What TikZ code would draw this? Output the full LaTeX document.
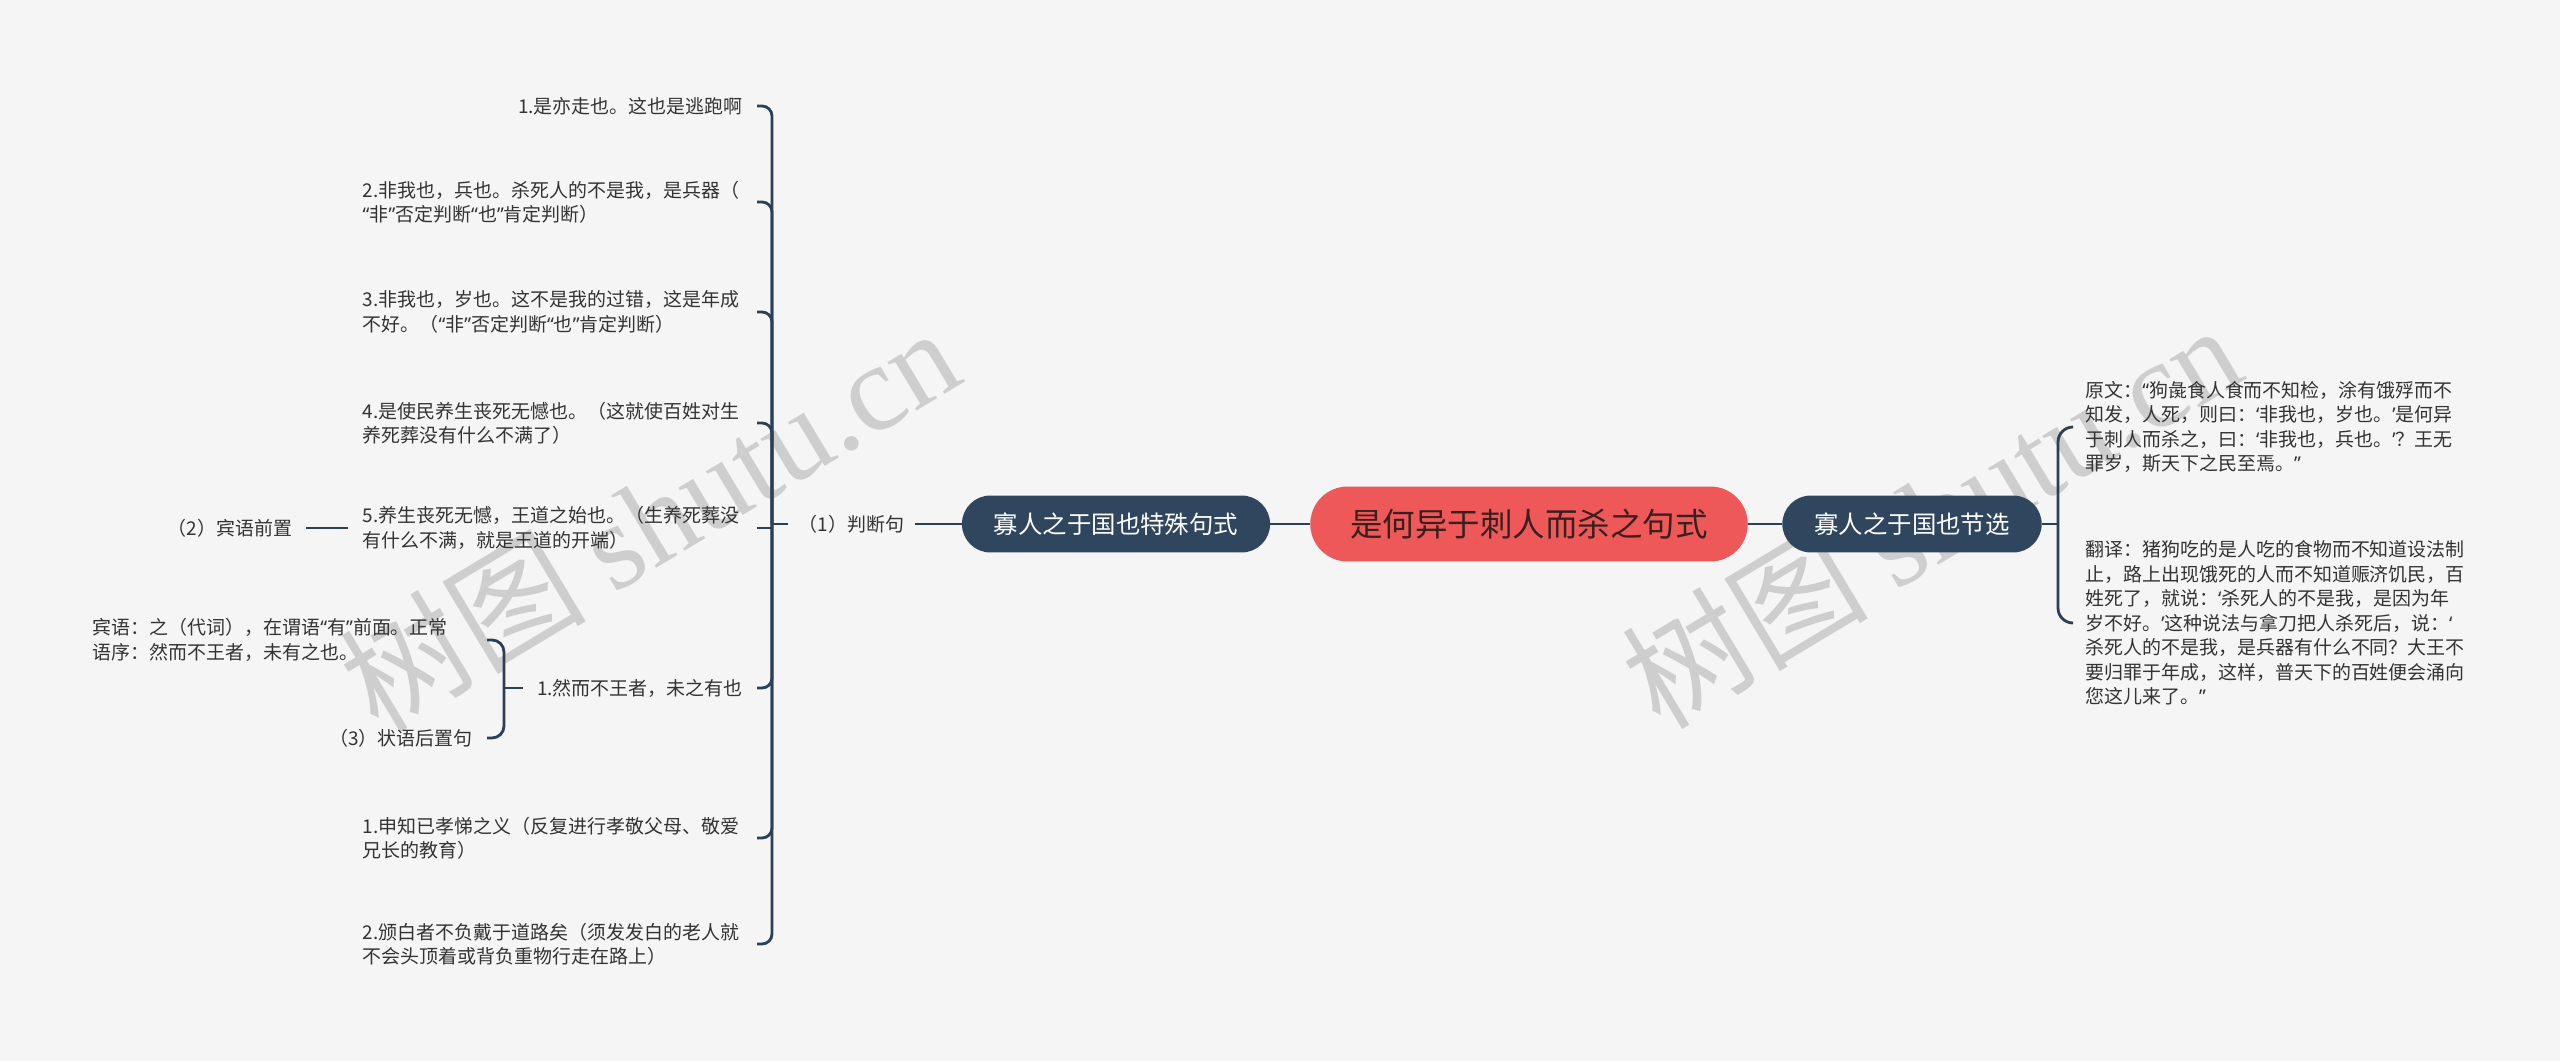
\documentclass[tikz,border=0pt]{standalone}
\usepackage{fontspec}
\setmainfont{Noto Sans CJK SC}
\newfontfamily\markfont{Liberation Serif}
\newfontfamily\quotefont{Noto Sans}
\usetikzlibrary{positioning,calc}
\definecolor{mmPaper}{HTML}{F5F5F5}
\definecolor{mmNavy} {HTML}{30465E}
\definecolor{mmLine} {HTML}{2B3F55}
\definecolor{mmCoral}{HTML}{EE5859}
\definecolor{mmInk}  {HTML}{333333}
\definecolor{mmRoot} {HTML}{3A1F1F}
\definecolor{mmMark} {HTML}{CECECE}
\newcommand{\leafsize}{\fontsize{10.8pt}{13.9pt}\selectfont}
% narrow quotation marks
\newcommand{\qL}{{\quotefont “}}
\newcommand{\qR}{{\quotefont ”}}
\newcommand{\sL}{{\quotefont ‘}}
\newcommand{\sR}{{\quotefont ’}}

\begin{document}
\begin{tikzpicture}[x=0.02cm,y=-0.02cm,
    link/.style={draw=mmLine,line width=1.6pt},
    leaf/.style={text=mmInk,font=\leafsize,inner xsep=0.28cm,inner ysep=2pt},
    leafw/.style={leaf,text width=7.6cm,align=left},
    branch/.style={fill=mmNavy,text=white,rounded corners=0.57cm,minimum height=1.14cm,
                   inner xsep=0.64cm,font=\fontsize{13.9pt}{16pt}\selectfont},
    rootbox/.style={fill=mmCoral,text=mmRoot,rounded corners=0.75cm,minimum height=1.5cm,
                    inner xsep=0.8cm,font=\fontsize{18.5pt}{22pt}\selectfont},
    stamp/.style={text=mmMark,font=\fontsize{70pt}{70pt}\selectfont,rotate=31}]
  \fill[mmPaper] (0,0) rectangle (2560,1061);

  % watermarks
  \node[stamp] (wm1) at (649,518) {树图 {\markfont shutu.cn}};
  \node[stamp] (wm2) at (1931,515) {树图 {\markfont shutu.cn}};

  % centre and first level
  \node[rootbox] (root) at (1529,524) {是何异于刺人而杀之句式};
  \node[branch] (lp) at (1116,524) {寡人之于国也特殊句式};
  \node[branch] (rp) at (1912,524) {寡人之于国也节选};
  \node[leaf,inner xsep=0.2cm,left=0.94cm of lp] (judge) {（1）判断句};

  % left column
  \node[leaf,anchor=east] (a1) at (757,106) {1.是亦走也。这也是逃跑啊};
  \node[leafw,anchor=east] (a2) at (757,202) {2.非我也，兵也。杀死人的不是我，是兵器（\\\qL{}非\qR{}否定判断\qL{}也\qR{}肯定判断）};
  \node[leafw,anchor=east] (a3) at (757,312) {3.非我也，岁也。这不是我的过错，这是年成\\不好。（\qL{}非\qR{}否定判断\qL{}也\qR{}肯定判断）};
  \node[leafw,anchor=east] (a4) at (757,423) {4.是使民养生丧死无憾也。（这就使百姓对生\\养死葬没有什么不满了）};
  \node[leafw,anchor=east] (a5) at (757,528) {5.养生丧死无憾，王道之始也。（生养死葬没\\有什么不满，就是王道的开端）};
  \node[leaf,anchor=east] (a6) at (757,688) {1.然而不王者，未之有也};
  \node[leafw,anchor=east] (a7) at (757,838) {1.申知已孝悌之义（反复进行孝敬父母、敬爱\\兄长的教育）};
  \node[leafw,anchor=east] (a8) at (757,944) {2.颁白者不负戴于道路矣（须发发白的老人就\\不会头顶着或背负重物行走在路上）};

  \node[leaf,left=0.84cm of a5] (q2) {（2）宾语前置};
  \node[leafw,anchor=east] (b1) at (487,640) {宾语：之（代词），在谓语\qL{}有\qR{}前面。正常\\语序：然而不王者，未有之也。};
  \node[leaf,anchor=east] (b2) at (487,738) {（3）状语后置句};

  % right column
  \node[leafw,anchor=west,inner xsep=0.24cm] (yw) at (2073,427) {原文：\qL{}狗彘食人食而不知检，涂有饿殍而不\\知发，人死，则曰：\sL{}非我也，岁也。\sR{}是何异\\于刺人而杀之，曰：\sL{}非我也，兵也。\sR{}？王无\\罪岁，斯天下之民至焉。\qR};
  \node[leafw,anchor=west,inner xsep=0.24cm] (fy) at (2073,623) {翻译：猪狗吃的是人吃的食物而不知道设法制\\止，路上出现饿死的人而不知道赈济饥民，百\\姓死了，就说：\sL{}杀死人的不是我，是因为年\\岁不好。\sR{}这种说法与拿刀把人杀死后，说：\sL\\杀死人的不是我，是兵器有什么不同？大王不\\要归罪于年成，这样，普天下的百姓便会涌向\\您这儿来了。\qR};

  % connectors
  \coordinate (jL) at (772,524);
  \coordinate (jS) at (504,688);
  \coordinate (jR) at (2058,524);
  \draw[link] (root) -- (lp);
  \draw[link] (root) -- (rp);
  \draw[link] (lp) -- (judge);
  \draw[link] (judge.west) -- (jL);
  \foreach \n in {a1,a2,a3,a4,a6,a7,a8}
    \draw[link,rounded corners=0.2cm] (jL) |- (\n.east);
  \draw[link] (a5.east) -- (a5.east -| jL);
  \draw[link] (q2) -- (a5);
  \draw[link] (a6.west) -- (jS);
  \draw[link,rounded corners=0.24cm] (jS) |- (b1.east);
  \draw[link,rounded corners=0.24cm] (jS) |- (b2.east);
  \draw[link] (rp.east) -- (jR);
  \draw[link,rounded corners=0.3cm] (jR) |- (yw.west);
  \draw[link,rounded corners=0.3cm] (jR) |- (fy.west);
\end{tikzpicture}
\end{document}
